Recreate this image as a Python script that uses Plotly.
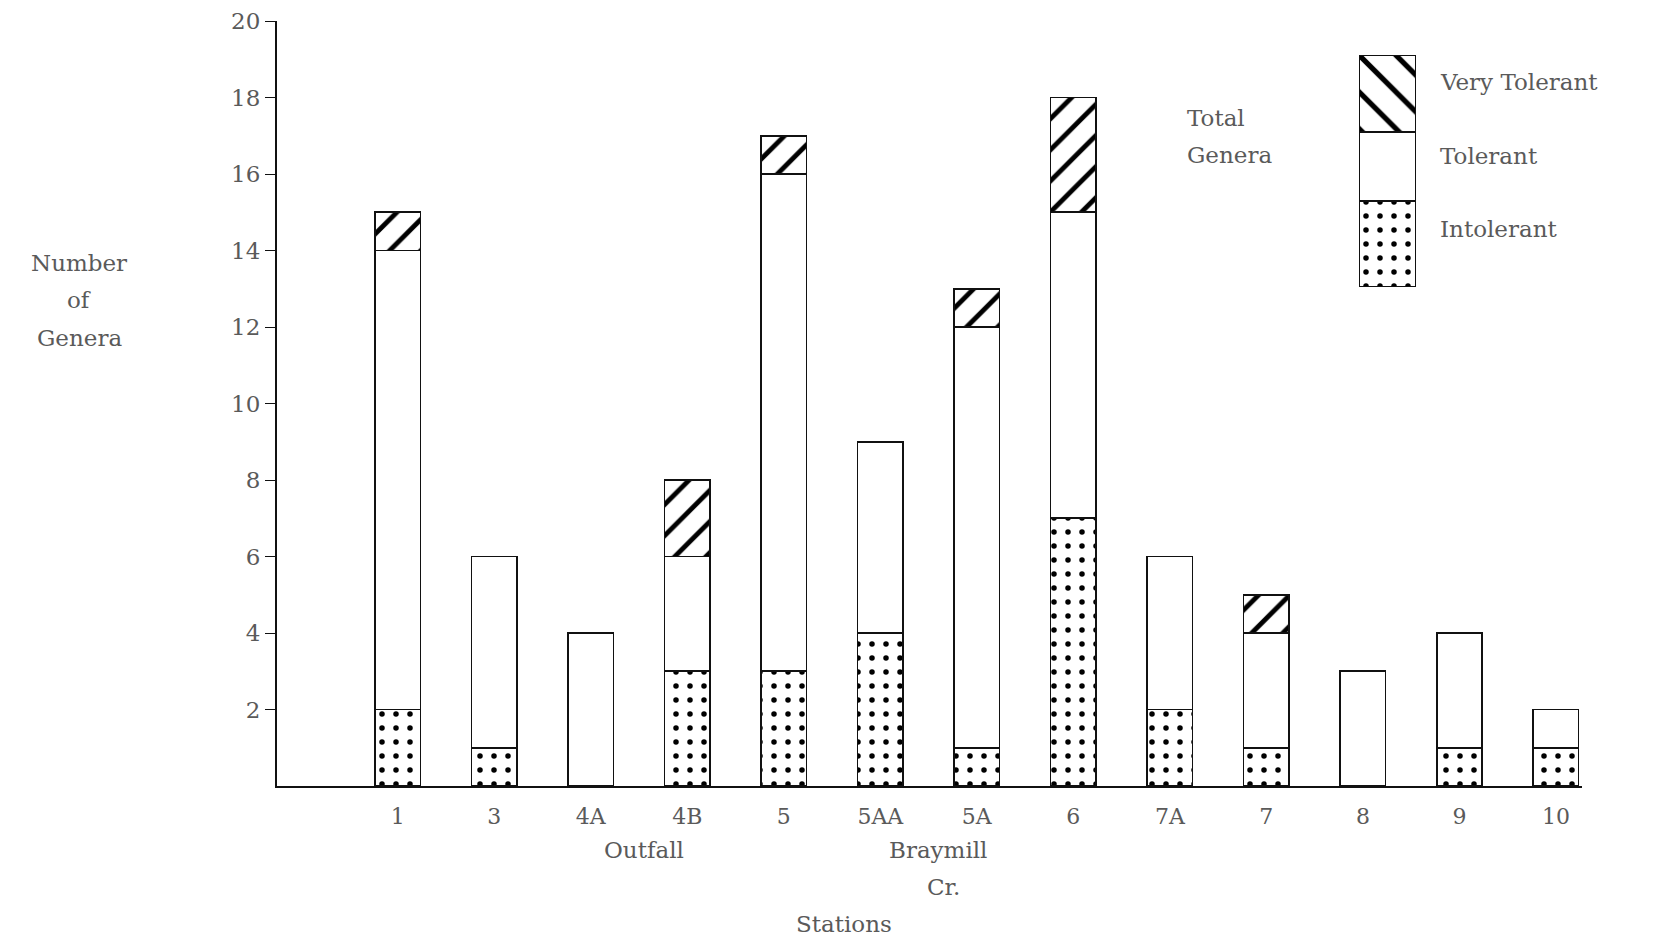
import plotly.graph_objects as go

stations = ["1", "3", "4A", "4B", "5", "5AA", "5A", "6", "7A", "7", "8", "9", "10"]
intolerant = [2, 1, 0, 3, 3, 4, 1, 7, 2, 1, 0, 1, 1]
tolerant = [12, 5, 4, 3, 13, 5, 11, 8, 4, 3, 3, 3, 1]
very_tolerant = [1, 0, 0, 2, 1, 0, 1, 3, 0, 1, 0, 0, 0]
y_ticks = [2, 4, 6, 8, 10, 12, 14, 16, 18, 20]

legend_names = ["Intolerant", "Tolerant", "Very Tolerant"]
legend_heights = [82, 65, 73]

FONT = "DejaVu Serif"
TXT = "#5a5a5a"
LINE = dict(color="#111", width=1.6)
DOTS = dict(shape=".", fgcolor="#000", fgopacity=1, bgcolor="white", size=14, solidity=0.12)
HATCH = dict(shape="/", fgcolor="#000", fgopacity=1, bgcolor="white", size=22, solidity=0.22)

# page offset (body margin) compensation
OFF = 8
W, H = 1654, 939
pl, pr, pt, pb = 277 - OFF, 72 + OFF, 21 - OFF, 153 + OFF
pw, ph = W - pl - pr, H - pt - pb
def px(xs):  # screen pixel -> paper x
    return (xs - OFF - pl) / pw
def py(ys):  # screen pixel -> paper y
    return (H - pb - (ys - OFF)) / ph

fig = go.Figure()
fig.add_trace(go.Bar(x=stations, y=intolerant, width=0.47,
                     marker=dict(color="white", line=LINE, pattern=DOTS), showlegend=False))
fig.add_trace(go.Bar(x=stations, y=tolerant, width=0.47,
                     marker=dict(color="white", line=LINE), showlegend=False))
fig.add_trace(go.Bar(x=stations, y=very_tolerant, width=0.47,
                     marker=dict(color="white", line=LINE, pattern=HATCH), showlegend=False))

# legend swatch drawn as a stacked bar on its own small axes
pats = [DOTS, dict(shape=""),
        dict(shape="\\", fgcolor="#000", fgopacity=1, bgcolor="white", size=26, solidity=0.2)]
for name, h, p in zip(legend_names, legend_heights, pats):
    fig.add_trace(go.Bar(x=[0], y=[h], width=1, xaxis="x2", yaxis="y2",
                         marker=dict(color="white", line=dict(color="#111", width=2), pattern=p),
                         showlegend=False, hoverinfo="skip"))

fig.update_layout(
    barmode="stack",
    width=W, height=H,
    margin=dict(l=pl, r=pr, t=pt, b=pb, autoexpand=False),
    paper_bgcolor="white", plot_bgcolor="white",
    font=dict(family=FONT, color=TXT, size=18),
    xaxis=dict(type="category", range=[-1.25, 12.27], showgrid=False, automargin=False,
               showline=True, linecolor="#111", linewidth=2,
               ticks="", tickfont=dict(size=22, family=FONT, color=TXT), ticklabelstandoff=10),
    yaxis=dict(range=[0, 20], tickvals=y_ticks, showgrid=False, zeroline=False, automargin=False,
               showline=True, linecolor="#111", linewidth=2,
               ticks="outside", ticklen=10, tickcolor="#111", tickwidth=1.3,
               tickfont=dict(size=23, family=FONT, color=TXT)),
    xaxis2=dict(domain=[px(1359), px(1416)], range=[-0.5, 0.5], visible=False, anchor="y2"),
    yaxis2=dict(domain=[py(287), py(55)], range=[0, sum(legend_heights)], visible=False, anchor="x2"),
)

BIG = dict(size=23, family=FONT, color=TXT)
annotations = []
def add(text, x, y, xref="paper", xanchor="center", align="center"):
    annotations.append(dict(text=text, x=x, y=y, xref=xref, yref="paper", showarrow=False,
                            xanchor=xanchor, yanchor="middle", align=align, font=BIG))

for t, ys in zip(["Number", "of", "Genera"], [263, 300, 338]):
    add(t, px(79), py(ys))
add("Outfall", 2.55, py(850), xref="x")
add("Braymill", 5.6, py(850), xref="x")
add("Cr.", 5.65, py(887), xref="x")
add("Stations", 4.62, py(924), xref="x")
for t, ys in zip(["Total", "Genera"], [118, 155]):
    add(t, px(1185), py(ys), xanchor="left", align="left")
for name, ys in zip(["Very Tolerant", "Tolerant", "Intolerant"], [82, 156, 229]):
    add(name, px(1438), py(ys), xanchor="left", align="left")
fig.update_layout(annotations=annotations)

fig.write_html("out.html")
